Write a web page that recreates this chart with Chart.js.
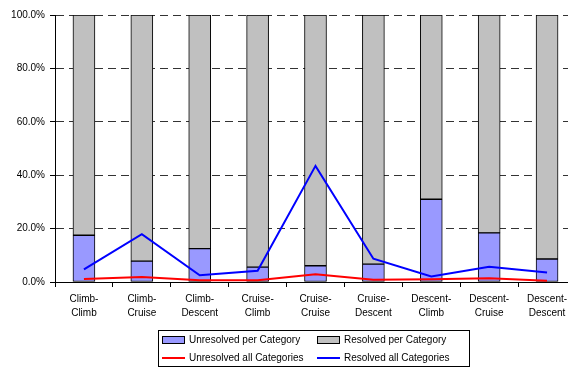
<!DOCTYPE html>
<html>
<head>
<meta charset="utf-8">
<script src="https://cdn.jsdelivr.net/npm/chart.js@4/dist/chart.umd.min.js"></script>
<style>
  html, body { margin: 0; padding: 0; background: #fff; overflow: hidden; }
  #wrap { width: 576px; height: 367px; }
</style>
</head>
<body>
<div id="wrap"><canvas id="chart" width="576" height="367"></canvas></div>
<script>
// categorias (transição de fase) e séries em %
const categories = [
    ['Climb-', 'Climb'], ['Climb-', 'Cruise'], ['Climb-', 'Descent'],
    ['Cruise-', 'Climb'], ['Cruise-', 'Cruise'], ['Cruise-', 'Descent'],
    ['Descent-', 'Climb'], ['Descent-', 'Cruise'], ['Descent-', 'Descent']
];
const unresolvedPerCat = [17.5, 7.8, 12.5, 5.6, 6.1, 6.7, 31.0, 18.4, 8.6];
const resolvedPerCat   = [82.5, 92.2, 87.5, 94.4, 93.9, 93.3, 69.0, 81.6, 91.4];
const unresolvedAll    = [1.1, 1.9, 0.7, 0.7, 2.9, 0.8, 1.0, 1.4, 0.5];
const resolvedAll      = [4.7, 17.9, 2.5, 4.2, 43.5, 8.7, 2.1, 5.7, 3.6];
const yTicks = [0, 20, 40, 60, 80, 100];

const FONT = 'Arial, "Liberation Sans", sans-serif';

// legenda desenhada à mão (duas colunas, com moldura)
const boxLegend = {
    id: 'boxLegend',
    afterDraw(chart) {
        const ctx = chart.ctx;
        const items = [
            { ds: 2, col: 0, row: 0 }, { ds: 3, col: 1, row: 0 },
            { ds: 0, col: 0, row: 1 }, { ds: 1, col: 1, row: 1 }
        ];
        const bx = 158.5, by = 330.5, bw = 311, bh = 36;
        ctx.save();
        ctx.strokeStyle = '#000';
        ctx.lineWidth = 1;
        ctx.strokeRect(bx, by, bw, bh);
        ctx.font = '10px ' + FONT;
        ctx.fillStyle = '#000';
        ctx.textBaseline = 'middle';
        items.forEach(it => {
            const ds = chart.data.datasets[it.ds];
            const x = it.col === 0 ? 162 : 317;
            const y = it.row === 0 ? 340 : 358;
            if (ds.type === 'bar') {
                ctx.fillStyle = ds.backgroundColor;
                ctx.fillRect(x + 0.5, y - 3.5, 22, 7);
                ctx.strokeStyle = '#000';
                ctx.lineWidth = 1;
                ctx.strokeRect(x + 0.5, y - 3.5, 22, 7);
            } else {
                ctx.strokeStyle = ds.borderColor;
                ctx.lineWidth = 2;
                ctx.beginPath();
                ctx.moveTo(x, y);
                ctx.lineTo(x + 23, y);
                ctx.stroke();
            }
            ctx.fillStyle = '#000';
            ctx.fillText(ds.label, x + 27, y);
        });
        ctx.restore();
    }
};

new Chart(document.getElementById('chart'), {
    data: {
        labels: categories,
        datasets: [
            {
                type: 'line', label: 'Unresolved all Categories', data: unresolvedAll,
                borderColor: '#ff0000', borderWidth: 2, pointRadius: 0, stack: 'lineRed',
                tension: 0
            },
            {
                type: 'line', label: 'Resolved all Categories', data: resolvedAll,
                borderColor: '#0000ff', borderWidth: 2, pointRadius: 0, stack: 'lineBlue',
                tension: 0
            },
            {
                type: 'bar', label: 'Unresolved per Category', data: unresolvedPerCat,
                backgroundColor: '#9999ff', borderColor: '#000', borderWidth: 1,
                borderSkipped: false, stack: 'bars', barThickness: 22
            },
            {
                type: 'bar', label: 'Resolved per Category', data: resolvedPerCat,
                backgroundColor: '#c0c0c0', borderColor: '#000', borderWidth: 1,
                borderSkipped: false, stack: 'bars', barThickness: 22
            }
        ]
    },
    options: {
        responsive: false,
        animation: false,
        layout: { padding: { top: 15, left: 0, right: 0, bottom: 0 } },
        plugins: {
            legend: { display: false },
            tooltip: { enabled: false }
        },
        scales: {
            x: {
                stacked: true,
                offset: true,
                grid: {
                    offset: true, drawOnChartArea: false, drawTicks: true,
                    tickLength: 5, tickColor: '#000'
                },
                border: { color: '#000', width: 1 },
                ticks: {
                    color: '#000', padding: 5, maxRotation: 0, autoSkip: false,
                    font: { family: FONT, size: 10, lineHeight: 1.4 }
                },
                afterFit(scale) { scale.height = 85; }
            },
            y: {
                stacked: true,
                min: 0, max: 100,
                afterBuildTicks(scale) { scale.ticks = yTicks.map(v => ({ value: v })); },
                grid: {
                    color: '#333', lineWidth: 1, drawTicks: true, tickLength: 5,
                    tickColor: '#000', tickBorderDash: []
                },
                border: { color: '#000', width: 1, dash: [8, 5] },
                ticks: {
                    color: '#000', padding: 5,
                    font: { family: FONT, size: 10 },
                    callback: v => v.toFixed(1) + '%'
                },
                afterFit(scale) { scale.width = 55; }
            }
        }
    },
    plugins: [boxLegend]
});
</script>
</body>
</html>
